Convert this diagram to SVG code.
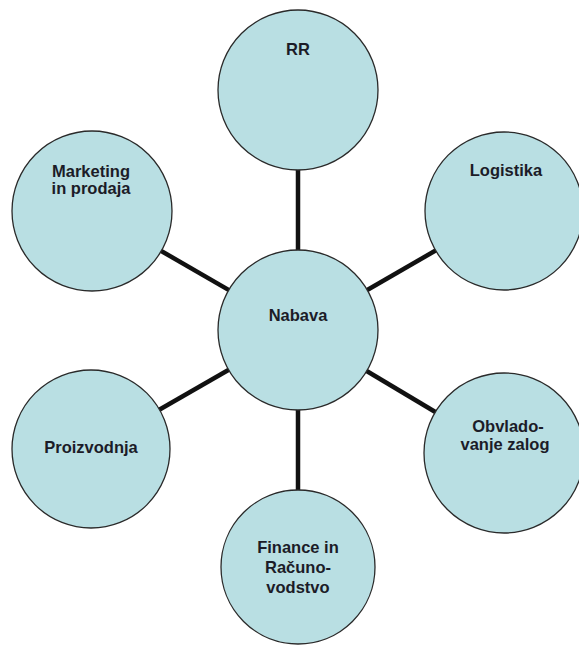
<svg xmlns="http://www.w3.org/2000/svg" width="579" height="645" viewBox="0 0 579 645">
<style>
.n{fill:#b9dfe3;stroke:#2a2a2a;stroke-width:1.3}
.c{stroke:#111;stroke-width:4.5;fill:none}
.t{font-family:"Liberation Sans",Arial,sans-serif;font-size:16.5px;font-weight:bold;fill:#1c1c28;text-anchor:middle}
</style>
<rect width="579" height="645" fill="#fff"/>
<g id="connectors">
<line class="c" x1="298" y1="330" x2="298" y2="90"/>
<line class="c" x1="298" y1="330" x2="92" y2="211"/>
<line class="c" x1="298" y1="330" x2="504" y2="211"/>
<line class="c" x1="298" y1="330" x2="91" y2="449"/>
<line class="c" x1="298" y1="330" x2="504" y2="453"/>
<line class="c" x1="298" y1="330" x2="298" y2="567"/>
</g>
<g id="rr"><circle class="n" cx="298" cy="90" r="80"/><text class="t" x="298" y="55">RR</text></g>
<g id="marketing"><circle class="n" cx="92" cy="211" r="80"/><text class="t" x="91" y="177">Marketing</text><text class="t" x="91" y="194">in prodaja</text></g>
<g id="logistika"><circle class="n" cx="504" cy="211" r="79"/><text class="t" x="506" y="176">Logistika</text></g>
<g id="nabava"><circle class="n" cx="298" cy="330" r="80"/><text class="t" x="298" y="321">Nabava</text></g>
<g id="proizvodnja"><circle class="n" cx="91" cy="449" r="79"/><text class="t" x="91" y="453">Proizvodnja</text></g>
<g id="obvladovanje"><circle class="n" cx="504" cy="453" r="80"/><text class="t" x="508" y="432">Obvlado-</text><text class="t" x="505" y="450">vanje zalog</text></g>
<g id="finance"><circle class="n" cx="298" cy="567" r="77"/><text class="t" x="298" y="553">Finance in</text><text class="t" x="298" y="573">Računo-</text><text class="t" x="298" y="593">vodstvo</text></g>
</svg>
